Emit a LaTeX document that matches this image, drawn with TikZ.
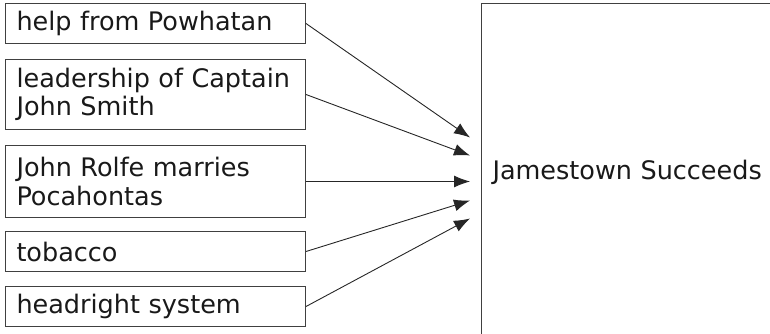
\documentclass[tikz,border=0pt]{standalone}
\usepackage{fontspec}
\setmainfont{DejaVu Sans}
\usepackage{tikz}
\usetikzlibrary{calc,positioning,arrows.meta}

\begin{document}
\begin{tikzpicture}
		[x=1pt, y=1pt, node distance=15pt,
		box/.style={draw=black!75, line width=1pt, text=black!90, align=left, text width=278pt, inner xsep=11pt, inner ysep=0pt, font=\fontsize{25.5}{28.5}\selectfont, minimum height=40pt},
		>={Latex[length=16pt, width=12pt]}]
		\useasboundingbox (0,0) rectangle (770,-334);
		\node[box, anchor=north west] (1) at (5,-3) {help from Powhatan};
		\node[box, minimum height=70pt, below=15pt of 1] (2) {leadership of Captain\\John Smith};
		\node[box, minimum height=72pt, below=15pt of 2] (3) {John Rolfe marries\\Pocahontas};
		\node[box, below=13pt of 3] (4) {tobacco};
		\node[box, below=14pt of 4] (5) {headright system};
		\node[box, anchor=north west, text width=298pt, minimum height=338pt] (6) at (481,-3) {Jamestown Succeeds};
		
		\coordinate (a1) at ($(6.west)+(-11,35)$);
		\coordinate (a2) at ($(6.west)+(-11,17)$);
		\coordinate (a3) at ($(3.east -| 6.west)+(-11,0)$);
		\coordinate (a4) at ($(6.west)+(-11,-28)$);
		\coordinate (a5) at ($(6.west)+(-11,-46)$);
		
		\draw[->, line width=0.9pt, black!85] (1.east) -- (a1);
		\draw[->, line width=0.9pt, black!85] (2.east) -- (a2);
		\draw[->, line width=0.9pt, black!85] (3.east) -- (a3);
		\draw[->, line width=0.9pt, black!85] (4.east) -- (a4);
		\draw[->, line width=0.9pt, black!85] (5.east) -- (a5);
		\end{tikzpicture}
\end{document}
